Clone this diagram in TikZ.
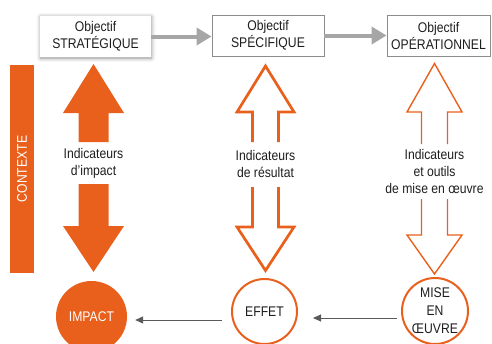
\documentclass[tikz,border=0pt]{standalone}
\usepackage{fontspec}
\setmainfont{Liberation Sans}[FakeStretch=0.87]
\usetikzlibrary{arrows.meta,shadows.blur}
\definecolor{org}{RGB}{232,96,28}
\definecolor{boxgray}{RGB}{140,140,140}
\definecolor{arrgray}{RGB}{166,166,166}
\definecolor{conngray}{RGB}{90,90,90}
\definecolor{txt}{RGB}{30,30,30}
\tikzset{
  txtfont/.style={font=\fontsize{14}{17}\selectfont},
  objbox/.style={txtfont, text=txt, align=center, fill=white, inner sep=0pt, minimum height=41pt},
  bigarrow/.style={draw=arrgray, line width=4pt, -{Triangle[length=15pt,width=17pt]}},
  conn/.style={draw=conngray, line width=0.9pt, -{Triangle[length=8pt,width=7pt]}},
  lbl/.style={txtfont, text=txt, align=center, inner sep=0pt},
  fullarrow/.style={fill=org},
  thickoutline/.style={draw=org, line width=2.7pt, miter limit=10},
  thinoutline/.style={draw=org, line width=1.4pt, miter limit=10},
  ring/.style={circle, draw=org, line width=2pt, fill=white, inner sep=0pt},
}
\begin{document}
\begin{tikzpicture}[x=1pt,y=-1pt]
\useasboundingbox (0,0) rectangle (492,343);

% objective boxes
\node[objbox, minimum width=111pt, blur shadow={shadow xshift=0.5pt, shadow yshift=-1pt, shadow blur radius=4pt, shadow opacity=45}] (strat) at (95.5,36.5) {Objectif\\STRATÉGIQUE};
\node[objbox, draw=boxgray, line width=0.9pt, minimum width=112pt] (spec) at (268,35.5) {Objectif\\SPÉCIFIQUE};
\node[objbox, draw=boxgray, line width=0.9pt, minimum width=103pt] (oper) at (438.5,35.5) {Objectif\\OPÉRATIONNEL};

\draw[bigarrow] (strat.east) -- (strat.east -| spec.west);
\draw[bigarrow] (spec.east) -- (spec.east -| oper.west);

% context bar
\node[fill=org, rotate=90, minimum width=208pt, minimum height=24pt, inner sep=0pt, txtfont, text=white] (ctx) at (22,169) {CONTEXTE};

% column 1 : filled arrows
\path[fullarrow] (93.5,64) -- (124,113) -- (108.5,113) -- (108.5,142) -- (78.5,142) -- (78.5,113) -- (63,113) -- cycle;
\path[fullarrow] (78.5,184) -- (108.5,184) -- (108.5,226) -- (124,226) -- (93.5,272) -- (63,226) -- (78.5,226) -- cycle;
\node[lbl] (t1) at (93.5,163.5) {Indicateurs\\d'impact};

% column 2 : thick outlined arrows
\draw[thickoutline] (252.5,142) -- (252.5,112) -- (237,112) -- (265.5,66) -- (294,112) -- (278.5,112) -- (278.5,142);
\draw[thickoutline] (252.5,187) -- (252.5,227) -- (237,227) -- (265.5,270.5) -- (294,227) -- (278.5,227) -- (278.5,187);
\node[lbl] (t2) at (265.5,164) {Indicateurs\\de résultat};

% column 3 : thin outlined arrows
\draw[thinoutline] (421.5,144) -- (421.5,112) -- (407,112) -- (434.5,63.5) -- (462,112) -- (447.5,112) -- (447.5,144);
\draw[thinoutline] (421.5,199) -- (421.5,235) -- (407,235) -- (434.5,274) -- (462,235) -- (447.5,235) -- (447.5,199);
\node[lbl] (t3) at (434.5,171.5) {Indicateurs\\et outils\\de mise en œuvre};

% circles
\node[circle, fill=org, minimum size=71pt, inner sep=0pt, txtfont, text=white] (impact) at (91.5,316.5) {IMPACT};
\node[ring, minimum size=65pt, txtfont, text=txt] (effet) at (264.5,311.5) {EFFET};
\node[ring, minimum size=66pt] (mise) at (435,311) {};
\node[lbl, font=\fontsize{14}{18}\selectfont] (misetxt) at (435,310.5) {MISE\\EN\\ŒUVRE};

% connectors
\coordinate (m1) at ([yshift=-7pt]mise.west);
\draw[conn, shorten <=4pt, shorten >=15pt] (m1) -- (m1 -| effet.east);
\coordinate (e1) at ([yshift=-8.5pt]effet.west);
\draw[conn, shorten <=9pt, shorten >=8pt] (e1) -- (e1 -| impact.east);
\end{tikzpicture}
\end{document}
